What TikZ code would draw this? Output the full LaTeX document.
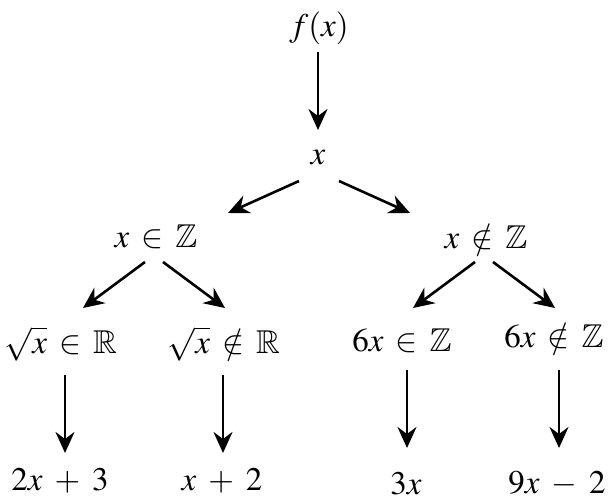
\documentclass[tikz,border=0pt]{standalone}
\usepackage{amssymb}
\usepackage{mathptmx}
\usetikzlibrary{arrows.meta}
\newcommand\gap{\hspace{12pt}}
\begin{document}
\begin{tikzpicture}[x=1pt,y=-1pt,
  lbl/.style={inner sep=0pt,font=\fontsize{33}{37}\selectfont},
  arr/.style={line width=2.6pt,-{Stealth[length=21pt,width=19pt,inset=7pt]}}]
\useasboundingbox (0,0) rectangle (608,497);
\node[lbl] (fx) at (319,28) {$f(x)$};
\node[lbl] (xn) at (318,158) {$x$};
\node[lbl] (xz) at (156,237) {$x$\gap$\in$\gap$\mathbb{Z}$};
\node[lbl] (xnz) at (486,237) {$x$\gap$\notin$\gap$\mathbb{Z}$};
\node[lbl] (sr) at (61,344) {$\sqrt{x}$\gap$\in$\gap$\mathbb{R}$};
\node[lbl] (snr) at (224,344) {$\sqrt{x}$\gap$\notin$\gap$\mathbb{R}$};
\node[lbl] (six) at (402,341) {$6x$\gap$\in$\gap$\mathbb{Z}$};
\node[lbl] (sixn) at (554,336) {$6x$\gap$\notin$\gap$\mathbb{Z}$};
\node[lbl] (b1) at (60,481) {$2x$\gap$+$\gap$3$};
\node[lbl] (b2) at (222,481) {$x$\gap$+$\gap$2$};
\node[lbl] (b3) at (406,484) {$3x$};
\node[lbl] (b4) at (557,484) {$9x$\gap$-$\gap$2$};
\draw[arr] ([shift={(-1,24)}]fx.center) -- ([shift={(0,-28)}]xn.center);
\draw[arr] ([shift={(-19,23)}]xn.center) -- ([shift={(72,-24)}]xz.center);
\draw[arr] ([shift={(21,23)}]xn.center) -- ([shift={(-76,-24)}]xnz.center);
\draw[arr] ([shift={(-11,25)}]xz.center) -- ([shift={(22,-36)}]sr.center);
\draw[arr] ([shift={(7,25)}]xz.center) -- ([shift={(1,-36)}]snr.center);
\draw[arr] ([shift={(-11,25)}]xnz.center) -- ([shift={(11,-33)}]six.center);
\draw[arr] ([shift={(7,25)}]xnz.center) -- ([shift={(1,-28)}]sixn.center);
\draw[arr] ([shift={(4,31)}]sr.center) -- ([shift={(5,-28)}]b1.center);
\draw[arr] ([shift={(-1,31)}]snr.center) -- ([shift={(1,-28)}]b2.center);
\draw[arr] ([shift={(5,29)}]six.center) -- ([shift={(1,-36)}]b3.center);
\draw[arr] ([shift={(5,34)}]sixn.center) -- ([shift={(2,-36)}]b4.center);
\end{tikzpicture}
\end{document}
